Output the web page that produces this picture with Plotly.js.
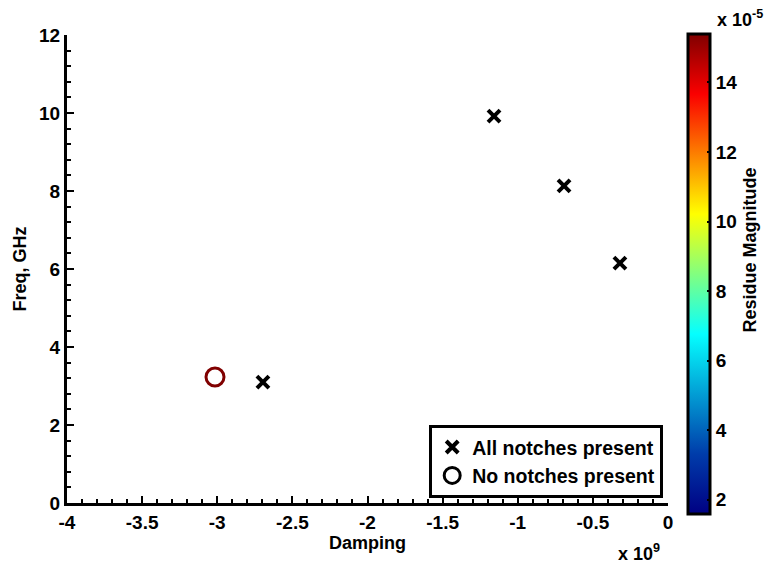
<!DOCTYPE html>
<html>
<head>
<meta charset="utf-8">
<script src="https://cdn.plot.ly/plotly-3.0.1.min.js"></script>
<style>html,body{margin:0;padding:0;background:#fff;}#chart{width:768px;height:563px;}</style>
</head>
<body>
<div id="chart"></div>
<script>
// Data
const allNotchesDamping = [-2.696e9, -1.158e9, -0.692e9, -0.320e9];
const allNotchesFreq = [3.10, 9.92, 8.13, 6.15];
const noNotchesDamping = [-3.015e9];
const noNotchesFreq = [3.23];
const noNotchesResidue = [15.4e-5];
const residueMin = 1.6e-5;
const residueMax = 15.4e-5;
const xTickVals = [-4e9, -3.5e9, -3e9, -2.5e9, -2e9, -1.5e9, -1e9, -0.5e9, 0];
const xTickText = ['-4', '-3.5', '-3', '-2.5', '-2', '-1.5', '-1', '-0.5', '0'];
const yTickVals = [0, 2, 4, 6, 8, 10, 12];
const cbTickVals = [2e-5, 4e-5, 6e-5, 8e-5, 10e-5, 12e-5, 14e-5];
const cbTickText = ['2', '4', '6', '8', '10', '12', '14'];
const legendLabels = ['All notches present', 'No notches present'];

const FAM = 'Liberation Sans, Arial, sans-serif';
const TF = {family: FAM, size: 19, color: '#000', weight: 'bold'};
const LF = {family: FAM, size: 18, color: '#000', weight: 'bold'};

const traces = [
  {
    type: 'scatter', mode: 'markers', name: legendLabels[0],
    x: allNotchesDamping, y: allNotchesFreq,
    marker: {symbol: 'x-thin-open', size: 12, color: '#000', line: {width: 4, color: '#000'}},
    showlegend: true
  },
  {
    type: 'scatter', mode: 'markers', name: legendLabels[1],
    x: noNotchesDamping, y: noNotchesFreq,
    marker: {
      symbol: 'circle-open', size: 18, color: noNotchesResidue,
      colorscale: 'Jet', cmin: residueMin, cmax: residueMax, showscale: true,
      line: {width: 3},
      colorbar: {
        x: 1.033, xanchor: 'left', xpad: 0,
        y: 0.49, yanchor: 'middle', ypad: 0,
        len: 480, lenmode: 'pixels',
        thickness: 22, thicknessmode: 'pixels',
        outlinewidth: 3, outlinecolor: '#000',
        ticks: 'inside', ticklen: 4, tickwidth: 2, tickcolor: '#000',
        tickvals: cbTickVals, ticktext: cbTickText,
        tickfont: TF
      }
    },
    showlegend: false
  },
  {
    type: 'scatter', mode: 'markers', name: legendLabels[1],
    x: [null], y: [null],
    marker: {symbol: 'circle-open', size: 17, color: '#000', line: {width: 3, color: '#000'}},
    showlegend: true
  }
];

const layout = {
  width: 768, height: 563,
  margin: {l: 67, r: 100, t: 35, b: 60},
  paper_bgcolor: '#fff', plot_bgcolor: '#fff',
  font: TF,
  showlegend: true,
  legend: {
    x: 0.992, xanchor: 'right', y: 0.011, yanchor: 'bottom',
    bordercolor: '#000', borderwidth: 3, bgcolor: '#fff',
    font: {family: FAM, size: 19.5, color: '#000', weight: 'bold'},
    tracegroupgap: 0, itemsizing: 'trace', itemwidth: 30
  },
  xaxis: {
    range: [-4e9, 0], showgrid: false, zeroline: false,
    showline: true, linecolor: '#000', linewidth: 3, mirror: false,
    ticks: 'inside', ticklen: 7, tickwidth: 2, tickcolor: '#000',
    tickvals: xTickVals, ticktext: xTickText, tickfont: TF,
    minor: {dtick: 0.1e9, ticks: 'inside', ticklen: 4, tickwidth: 2, tickcolor: '#000', showgrid: false},
    title: {text: 'Damping', font: LF, standoff: 2}
  },
  yaxis: {
    range: [0, 12], showgrid: false, zeroline: false,
    showline: true, linecolor: '#000', linewidth: 3, mirror: false,
    ticks: 'inside', ticklen: 7, tickwidth: 2, tickcolor: '#000',
    tickvals: yTickVals, tickfont: TF,
    minor: {dtick: 0.4, ticks: 'inside', ticklen: 4, tickwidth: 2, tickcolor: '#000', showgrid: false},
    title: {text: 'Freq, GHz', font: LF, standoff: 8}
  },
  annotations: [
    {xref: 'paper', yref: 'paper', x: 0.99, y: -0.105, xanchor: 'right', yanchor: 'middle',
     text: 'x 10<sup>9</sup>', showarrow: false, font: LF},
    {xref: 'paper', yref: 'paper', x: 1.162, y: 1.036, xanchor: 'right', yanchor: 'middle',
     text: 'x 10<sup>-5</sup>', showarrow: false, font: LF},
    {xref: 'paper', yref: 'paper', x: 1.137, y: 0.54, xanchor: 'center', yanchor: 'middle',
     text: 'Residue Magnitude', textangle: -90, showarrow: false, font: LF}
  ]
};

Plotly.newPlot('chart', traces, layout, {displayModeBar: false, staticPlot: true});
</script>
</body>
</html>
